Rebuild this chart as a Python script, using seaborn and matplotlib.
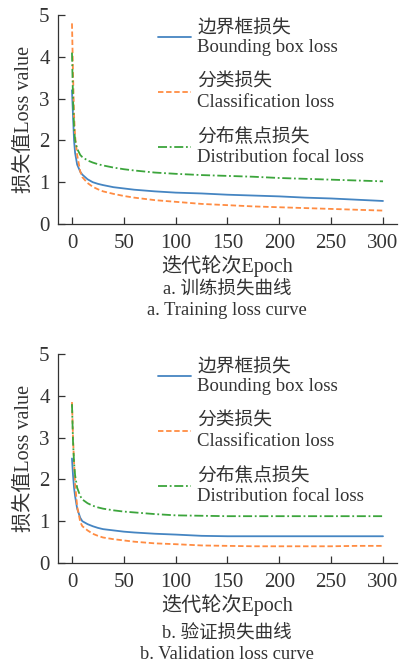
import matplotlib

matplotlib.use("Agg")
import matplotlib.pyplot as plt
import pandas as pd
import seaborn as sns

epochs = [0, 1, 2, 3, 5, 8, 10, 15, 20, 25, 30, 40, 50, 60, 80, 100,
          125, 150, 175, 200, 225, 250, 275, 300]

train_box = [3.2, 2.6, 2.0, 1.7, 1.42, 1.25, 1.18, 1.07, 1.0, 0.96, 0.93, 0.88,
             0.85, 0.82, 0.78, 0.75, 0.73, 0.70, 0.68, 0.66, 0.63, 0.61, 0.58, 0.55]
train_cls = [4.8, 3.6, 2.6, 2.1, 1.65, 1.25, 1.12, 0.98, 0.89, 0.83, 0.78, 0.72,
             0.67, 0.63, 0.57, 0.53, 0.48, 0.45, 0.42, 0.40, 0.38, 0.36, 0.34, 0.32]
train_dfl = [4.1, 3.0, 2.3, 2.0, 1.8, 1.65, 1.6, 1.52, 1.47, 1.43, 1.40, 1.35,
             1.31, 1.28, 1.23, 1.20, 1.17, 1.15, 1.13, 1.10, 1.08, 1.06, 1.04, 1.02]

val_box = [2.5, 2.1, 1.8, 1.6, 1.3, 1.08, 1.0, 0.93, 0.88, 0.84, 0.81, 0.78,
           0.75, 0.73, 0.70, 0.68, 0.65, 0.64, 0.64, 0.64, 0.64, 0.64, 0.64, 0.64]
val_cls = [3.85, 3.0, 2.4, 1.9, 1.35, 0.98, 0.88, 0.78, 0.70, 0.65, 0.61, 0.57,
           0.54, 0.51, 0.47, 0.45, 0.42, 0.41, 0.40, 0.40, 0.40, 0.40, 0.41, 0.41]
val_dfl = [3.8, 2.9, 2.4, 2.1, 1.8, 1.6, 1.52, 1.43, 1.37, 1.33, 1.30, 1.26,
           1.23, 1.21, 1.17, 1.14, 1.13, 1.12, 1.12, 1.12, 1.12, 1.12, 1.12, 1.12]

labels = ["边界框损失\nBounding box loss", "分类损失\nClassification loss",
          "分布焦点损失\nDistribution focal loss"]
colors = ["#4585c2", "#ff8c42", "#3ca53c"]
styles = ["-", (0, (3, 1.5)), (0, (5, 1.5, 1, 1.5))]

captions = [("a. 训练损失曲线", "a. Training loss curve"),
            ("b. 验证损失曲线", "b. Validation loss curve")]

sns.set_style("ticks")
plt.rcParams["font.family"] = ["Liberation Serif", "Noto Sans CJK SC"]
plt.rcParams["xtick.direction"] = "in"
plt.rcParams["ytick.direction"] = "in"

fig = plt.figure(figsize=(4.01, 6.64), dpi=100)
ax_top = fig.add_axes([0.1446, 0.6627, 0.8454, 0.3147])
ax_bot = fig.add_axes([0.1446, 0.1521, 0.8454, 0.3148])

panels = [(ax_top, [train_box, train_cls, train_dfl]),
          (ax_bot, [val_box, val_cls, val_dfl])]

for ax, series in panels:
    for vals, lab, col, ls in zip(series, labels, colors, styles):
        df = pd.DataFrame({"epoch": epochs, "loss": vals})
        sns.lineplot(data=df, x="epoch", y="loss", ax=ax, color=col,
                     linestyle=ls, linewidth=1.3, label=lab)
    ax.set_xlim(-13.5, 313.5)
    ax.set_ylim(0, 5)
    ax.set_xticks([0, 50, 100, 150, 200, 250, 300])
    ax.set_yticks([0, 1, 2, 3, 4, 5])
    ax.tick_params(labelsize=15, length=5, width=0.9, colors="#333333")
    ax.tick_params(axis="x", pad=7)
    ax.tick_params(axis="y", pad=6)
    ax.set_xlabel("迭代轮次Epoch", fontsize=14.5, color="#333333", labelpad=2)
    ax.set_ylabel("损失值Loss value", fontsize=14.5, color="#333333", labelpad=4)
    for s in ["left", "bottom"]:
        ax.spines[s].set_color("#333333")
        ax.spines[s].set_linewidth(0.9)
    sns.despine(ax=ax)
    leg = ax.legend(loc="upper left", bbox_to_anchor=(0.272, 1.02), frameon=False,
                    fontsize=13.5, handlelength=1.75, handletextpad=0.35,
                    labelspacing=0.92, borderaxespad=0)
    for t in leg.get_texts():
        t.set_linespacing(1.25)
        t.set_color("#333333")

for (zh, en), (y_zh, y_en) in zip(captions, [(0.563, 0.532), (0.0452, 0.0136)]):
    fig.text(0.566, y_zh, zh, ha="center", va="center", fontsize=13.3,
             color="#333333")
    fig.text(0.566, y_en, en, ha="center", va="center", fontsize=13.3,
             color="#333333")

fig.savefig("out.png", dpi=100)
